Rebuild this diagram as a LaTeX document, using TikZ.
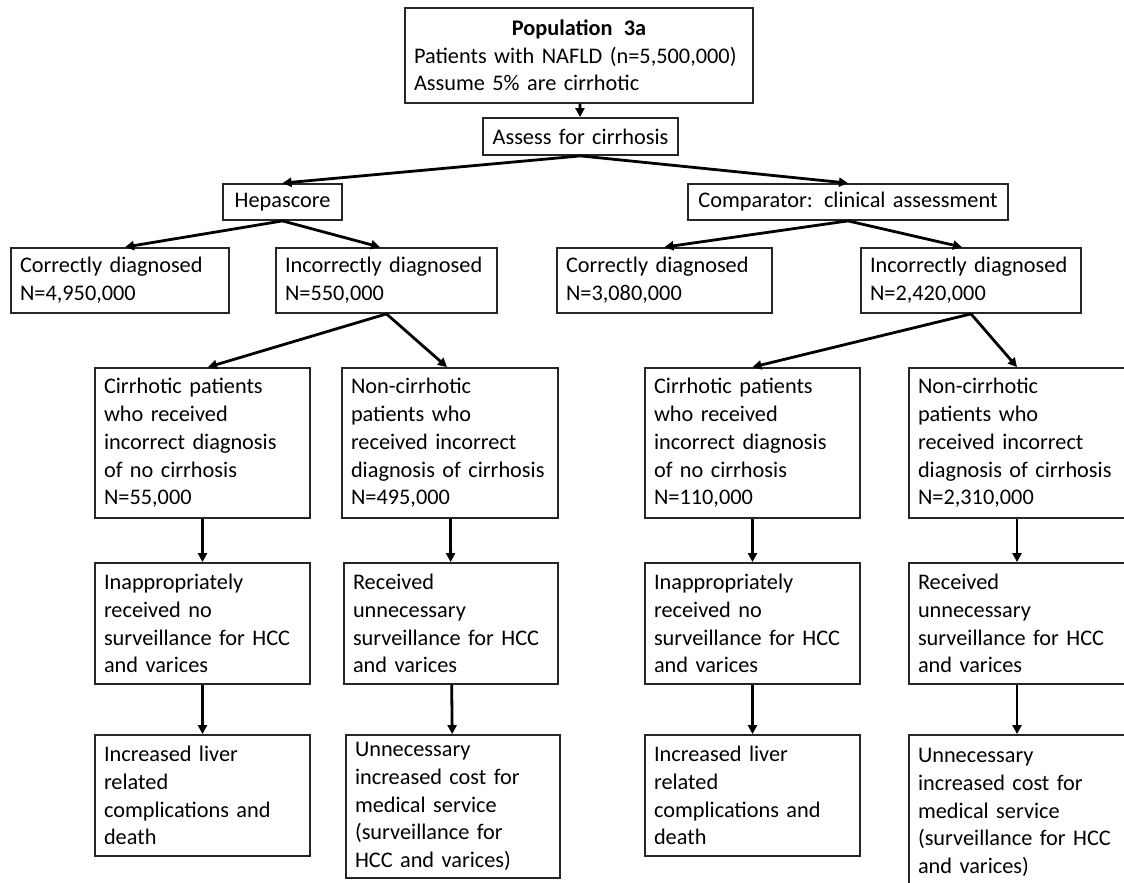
\documentclass[tikz,border=0pt]{standalone}
\usepackage{fontspec}
\setmainfont{Carlito}
\usetikzlibrary{arrows.meta}
\begin{document}
\begin{tikzpicture}[x=1pt,y=-1pt,
    box/.style={draw=black!85, line width=1.8pt, inner xsep=9pt, inner ysep=0pt,
        align=left, font=\fontsize{22.3}{27.7}\selectfont},
    arr/.style={line width=2.8pt, -{Triangle[length=9pt,width=9pt]}}]
    \clip (0,0) rectangle (1124,883);
    \fill[white] (0,0) rectangle (1124,883);

    \node[box, text width=330pt, minimum height=95pt] (pop) at (579,55.5)
        {{\centering\bfseries Population\hspace{0.5em}3a\par}Patients with NAFLD (n=5,500,000)\\Assume 5\% are cirrhotic};
    \node[box, text width=177pt, minimum height=37pt, align=center] (assess) at (580.5,136.5) {Assess for cirrhosis};

    \node[box, text width=101pt, minimum height=36pt, align=center] (hepa) at (282.5,202) {Hepascore};
    \node[box, text width=302pt, minimum height=36pt, align=center] (comp) at (848,202) {Comparator: clinical assessment};

    \node[box, text width=200pt, minimum height=65pt] (corrL) at (120,280.5) {Correctly diagnosed\\N=4,950,000};
    \node[box, text width=203pt, minimum height=65pt] (incL) at (386.5,280.5) {Incorrectly diagnosed\\N=550,000};
    \node[box, text width=197pt, minimum height=65pt] (corrR) at (664.5,280.5) {Correctly diagnosed\\N=3,080,000};
    \node[box, text width=202pt, minimum height=65pt] (incR) at (971,280.5) {Incorrectly diagnosed\\N=2,420,000};

    \node[box, text width=197pt, minimum height=150pt] (cirrL) at (202.5,443)
        {Cirrhotic patients\\who received\\incorrect diagnosis\\of no cirrhosis\\N=55,000};
    \node[box, text width=198pt, minimum height=150pt] (noncL) at (450,443)
        {Non-cirrhotic\\patients who\\received incorrect\\diagnosis of cirrhosis\\N=495,000};
    \node[box, text width=197pt, minimum height=150pt] (cirrR) at (752.5,443)
        {Cirrhotic patients\\who received\\incorrect diagnosis\\of no cirrhosis\\N=110,000};
    \node[box, text width=204pt, minimum height=150pt] (noncR) at (1020,443)
        {Non-cirrhotic\\patients who\\received incorrect\\diagnosis of cirrhosis\\N=2,310,000};

    \node[box, text width=197pt, minimum height=121pt] (inapL) at (202.5,623.5)
        {Inappropriately\\received no\\surveillance for HCC\\and varices};
    \node[box, text width=196pt, minimum height=121pt] (recvL) at (451,623.5)
        {Received\\unnecessary\\surveillance for HCC\\and varices};
    \node[box, text width=197pt, minimum height=121pt] (inapR) at (752.5,623.5)
        {Inappropriately\\received no\\surveillance for HCC\\and varices};
    \node[box, text width=204pt, minimum height=121pt] (recvR) at (1020,623.5)
        {Received\\unnecessary\\surveillance for HCC\\and varices};

    \node[box, text width=197pt, minimum height=121pt] (incrL) at (202.5,795.5)
        {Increased liver\\related\\complications and\\death};
    \node[box, text width=196pt, minimum height=143pt] (unnecL) at (453,806.5)
        {Unnecessary\\increased cost for\\medical service\\(surveillance for\\HCC and varices)};
    \node[box, text width=197pt, minimum height=121pt] (incrR) at (752.5,795.5)
        {Increased liver\\related\\complications and\\death};
    \node[box, text width=204pt, minimum height=155pt] (unnecR) at (1020,812.5)
        {Unnecessary\\increased cost for\\medical service\\(surveillance for HCC\\and varices)};

    \draw[arr] (pop) -- (assess);
    \draw[arr] (assess.south) -- (hepa.north);
    \draw[arr] (assess.south) -- (comp.north);

    \draw[arr] (hepa.south) -- ([xshift=5pt]corrL.north);
    \draw[arr] (hepa.south) -- ([xshift=-6.5pt]incL.north);
    \draw[arr] (comp.south) -- (corrR.north);
    \draw[arr] (comp.south) -- ([xshift=-9pt]incR.north);

    \draw[arr] (incL.south) -- ([xshift=5.5pt]cirrL.north);
    \draw[arr] (incL.south) -- ([xshift=-3pt]noncL.north);
    \draw[arr] (incR.south) -- (cirrR.north);
    \draw[arr] (incR.south) -- ([xshift=-3pt]noncR.north);

    \draw[arr] (cirrL) -- (inapL);
    \draw[arr] (inapL) -- (incrL);
    \draw[arr] (noncL) -- (recvL);
    \draw[arr] (recvL) -- (unnecL);
    \draw[arr] (cirrR) -- (inapR);
    \draw[arr] (inapR) -- (incrR);
    \draw[arr] ([xshift=-3pt]noncR.south) -- ([xshift=-3pt]recvR.north);
    \draw[arr] ([xshift=-3pt]recvR.south) -- ([xshift=-3pt]unnecR.north);
\end{tikzpicture}
\end{document}
